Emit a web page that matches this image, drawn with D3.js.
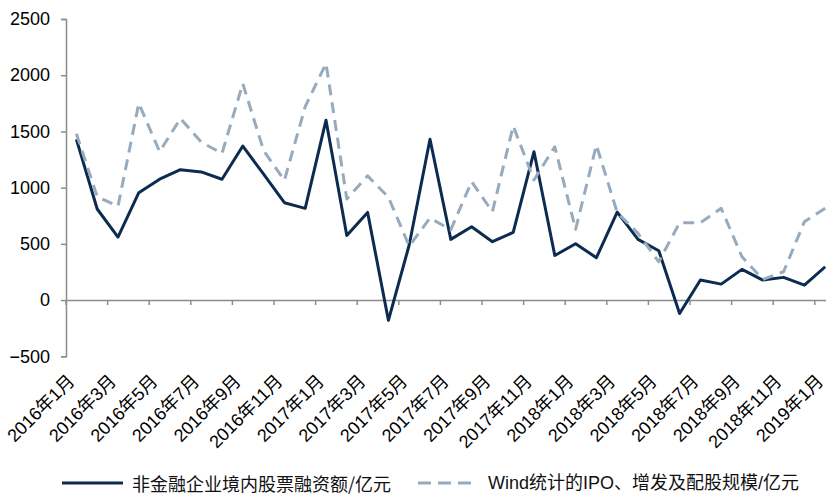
<!DOCTYPE html>
<html>
<head>
<meta charset="utf-8">
<script src="https://cdn.jsdelivr.net/npm/d3@7/dist/d3.min.js"></script>
<style>
  html, body { margin: 0; padding: 0; background: #fff; }
  svg { display: block; }
</style>
</head>
<body>
<svg id="chart" width="826" height="496"></svg>
<script>
// Monthly categories, 2016-01 .. 2019-01
const months = [
  "2016年1月","2016年2月","2016年3月","2016年4月","2016年5月","2016年6月",
  "2016年7月","2016年8月","2016年9月","2016年10月","2016年11月","2016年12月",
  "2017年1月","2017年2月","2017年3月","2017年4月","2017年5月","2017年6月",
  "2017年7月","2017年8月","2017年9月","2017年10月","2017年11月","2017年12月",
  "2018年1月","2018年2月","2018年3月","2018年4月","2018年5月","2018年6月",
  "2018年7月","2018年8月","2018年9月","2018年10月","2018年11月","2018年12月",
  "2019年1月"
];

// 非金融企业境内股票融资额 (亿元)
const equityFinancing = [
  1430, 810, 560, 955, 1075, 1160, 1140, 1075, 1370, 1120, 866, 816,
  1600, 575, 780, -180, 490, 1430, 540, 652, 519, 602, 1320, 397,
  501, 377, 783, 540, 439, -119, 178, 142, 273, 178, 202, 133,
  296
];

// Wind统计的IPO、增发及配股规模 (亿元)
const windIssuance = [
  1480, 920, 835, 1750, 1320, 1615, 1405, 1305, 1925, 1330, 1065, 1720,
  2105, 900, 1105, 915, 480, 730, 625, 1053, 786, 1548, 1068, 1364,
  629, 1379, 780, 593, 341, 688, 688, 816, 385, 184, 252, 697,
  816
];

const yTicks = [-500, 0, 500, 1000, 1500, 2000, 2500];

const seriesNames = ["非金融企业境内股票融资额/亿元", "Wind统计的IPO、增发及配股规模/亿元"];

const svg = d3.select("#chart");
const plotLeft = 66, bandW = 20.8;
const plotRight = plotLeft + bandW * months.length;
const plotTop = 19, plotBottom = 356.3;

const x = d3.scaleBand().domain(months).range([plotLeft, plotRight]).paddingInner(0).paddingOuter(0);
const y = d3.scaleLinear().domain([-500, 2500]).range([plotBottom, plotTop]);
const cx = m => x(m) + x.bandwidth() / 2;

const axisColor = "#8c8c8c";
const latin = "'Liberation Sans', Arial, sans-serif";
const mixed = "'Liberation Sans', 'Noto Sans CJK SC', sans-serif";
const cjk = "'Noto Sans CJK SC', 'Liberation Sans', sans-serif";

// Y axis
const yAxis = svg.append("g")
  .attr("transform", `translate(${plotLeft},0)`)
  .call(d3.axisLeft(y).tickValues(yTicks).tickSize(5).tickPadding(11).tickFormat(d3.format("d")));
yAxis.select(".domain").attr("stroke", axisColor).attr("stroke-width", 1.5);
yAxis.selectAll(".tick line").attr("stroke", axisColor).attr("stroke-width", 1.5);
yAxis.selectAll(".tick text")
  .attr("font-family", latin).attr("font-size", 18).attr("fill", "#000");

// X axis along the zero line; ticks sit on category boundaries every two months
const labelled = months.filter((m, i) => i % 2 === 0);
const xAxis = svg.append("g")
  .attr("transform", `translate(0,${y(0)})`)
  .call(d3.axisBottom(x).tickValues(labelled).tickSize(5).tickSizeOuter(0).tickFormat(""));
xAxis.select(".domain").attr("stroke", axisColor).attr("stroke-width", 1.5);
xAxis.selectAll(".tick line")
  .attr("stroke", axisColor).attr("stroke-width", 1.5)
  .attr("x1", -x.bandwidth() / 2).attr("x2", -x.bandwidth() / 2);

// Rotated month labels below the plot
svg.append("g").selectAll("text")
  .data(labelled)
  .join("text")
  .attr("transform", d => `translate(${cx(d) - 5},378) rotate(-45)`)
  .attr("text-anchor", "end")
  .attr("dominant-baseline", "central")
  .attr("font-family", mixed)
  .attr("font-size", 18)
  .attr("fill", "#000")
  .text(d => d);

// Series lines
const line = d3.line().x((d, i) => cx(months[i])).y(d => y(d));

svg.append("path")
  .datum(equityFinancing)
  .attr("d", line)
  .attr("fill", "none")
  .attr("stroke", "#0c2b50")
  .attr("stroke-width", 3)
  .attr("stroke-linejoin", "round");

svg.append("path")
  .datum(windIssuance)
  .attr("d", line)
  .attr("fill", "none")
  .attr("stroke", "#98aabd")
  .attr("stroke-width", 3)
  .attr("stroke-dasharray", "11,7")
  .attr("stroke-linejoin", "round");

// Legend
const legY = 483;
const legend = svg.append("g");
legend.append("line")
  .attr("x1", 62).attr("x2", 123).attr("y1", legY).attr("y2", legY)
  .attr("stroke", "#0c2b50").attr("stroke-width", 3);
legend.append("text")
  .attr("x", 132).attr("y", legY)
  .attr("dominant-baseline", "central")
  .attr("font-family", cjk).attr("font-size", 18).attr("fill", "#111")
  .text(seriesNames[0]);
legend.append("line")
  .attr("x1", 418).attr("x2", 473).attr("y1", legY).attr("y2", legY)
  .attr("stroke", "#98aabd").attr("stroke-width", 3)
  .attr("stroke-dasharray", "13,7");
legend.append("text")
  .attr("x", 488).attr("y", legY)
  .attr("dominant-baseline", "central")
  .attr("font-family", mixed).attr("font-size", 18).attr("fill", "#111")
  .text(seriesNames[1]);
</script>
</body>
</html>
